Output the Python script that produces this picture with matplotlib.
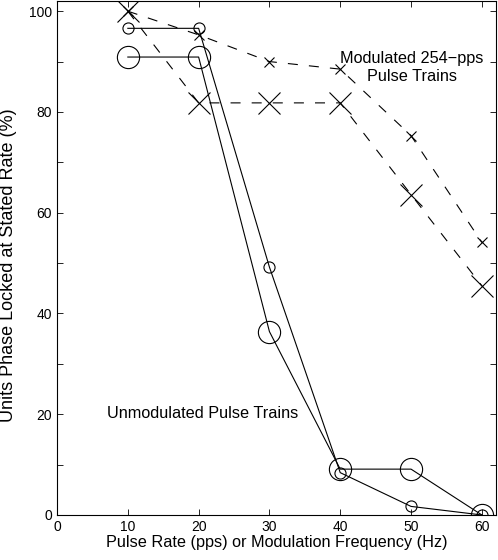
import matplotlib
matplotlib.use("Agg")
import matplotlib.pyplot as plt
from matplotlib.ticker import MultipleLocator

plt.rcParams['font.family'] = ['Liberation Sans', 'DejaVu Sans']

rates = [10, 20, 30, 40, 50, 60]
# unmodulated pulse trains (solid lines)
unmod_small = [96.6, 96.6, 49.2, 8.4, 1.7, 0.0]
unmod_large = [90.9, 90.9, 36.4, 9.1, 9.1, 0.0]
# modulated 254-pps pulse trains (dashed lines)
mod_small = [100.0, 95.3, 90.0, 88.5, 75.3, 54.1]
mod_large = [100.0, 81.8, 81.8, 81.8, 63.6, 45.5]

fig = plt.figure(figsize=(4.98, 5.6), dpi=100)
ax = fig.add_axes([0.1145, 0.0804, 0.8815, 0.9176])

lw = 0.8
dash = (0, (9, 10))
ax.plot(rates, unmod_small, '-', color='k', lw=lw, marker='o', ms=8,
        mfc='none', mec='k', mew=lw)
ax.plot(rates, unmod_large, '-', color='k', lw=lw, marker='o', ms=16,
        mfc='none', mec='k', mew=lw)
ax.plot(rates, mod_small, color='k', lw=lw, ls=dash, marker='x', ms=7,
        mec='k', mew=lw)
ax.plot(rates, mod_large, color='k', lw=lw, ls=dash, marker='x', ms=16,
        mec='k', mew=lw)

ax.text(50.1, 88.8, "Modulated 254\u2212pps\nPulse Trains", ha='center', va='center',
        fontsize=11.7, linespacing=1.2)
ax.text(7.1, 20.2, "Unmodulated Pulse Trains", ha='left', va='center', fontsize=11.7)

ax.set_xlim(0, 62)
ax.set_ylim(0, 102)
ax.xaxis.set_major_locator(MultipleLocator(10))
ax.yaxis.set_major_locator(MultipleLocator(20))
ax.yaxis.set_minor_locator(MultipleLocator(10))
ax.tick_params(direction='in', top=True, right=True, which='both', labelsize=10,
               length=4, width=0.6)
for s in ax.spines.values():
    s.set_linewidth(0.8)

ax.set_xlabel("Pulse Rate (pps) or Modulation Frequency (Hz)", fontsize=11.7, labelpad=1)
ax.set_ylabel("Units Phase Locked at Stated Rate (%)", fontsize=13)
ax.yaxis.set_label_coords(-0.092, 0.486)

fig.savefig("out.png", dpi=100)
